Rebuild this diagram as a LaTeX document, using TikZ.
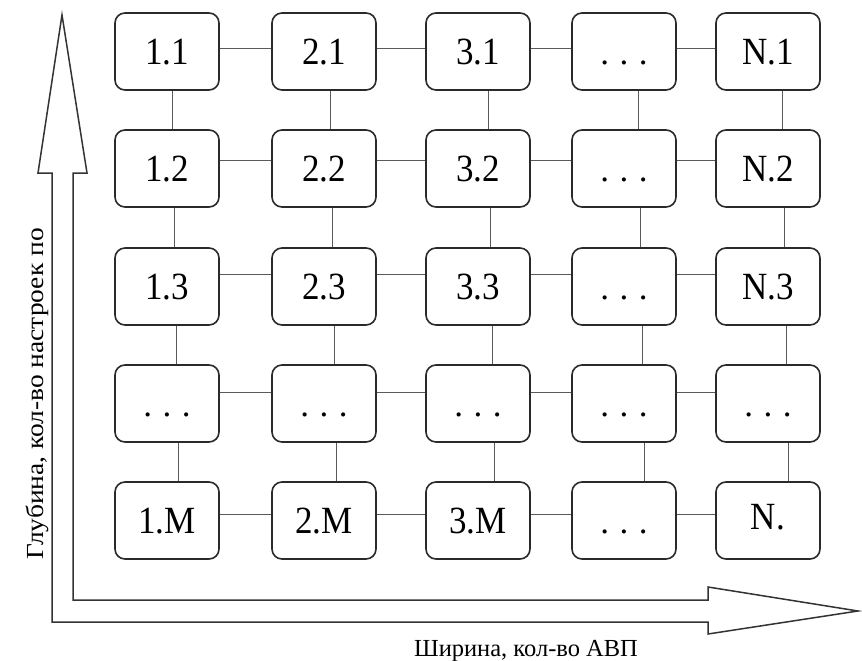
\documentclass[tikz,border=0pt]{standalone}
\usepackage{fontspec}
\setmainfont{Liberation Serif}
\definecolor{boxline}{HTML}{2A2A2A}
\definecolor{linkgray}{HTML}{5A5A5A}
\definecolor{arrowline}{HTML}{333333}
\newcommand\gdots{.\hspace{10.5pt}.\hspace{10.5pt}.}
\newcommand\celltext[1]{\scalebox{1}[1.1]{#1}}
\begin{document}
\begin{tikzpicture}[x=1pt,y=-1pt,
  cell/.style={draw=boxline, line width=1.6pt, rounded corners=10pt, fill=white,
    minimum width=104pt, minimum height=77pt, inner sep=0pt,
    font=\fontsize{35}{40}\selectfont, text height=26pt, text depth=0pt},
  link/.style={draw=linkgray, line width=0.9pt},
  bigarrow/.style={draw=arrowline, line width=1.5pt, line join=miter},
  axislabel/.style={font=\fontsize{24.5}{28}\selectfont, inner sep=0pt}]

\useasboundingbox (0,0) rectangle (862,661);

% the two axes drawn as one hollow L-shaped double arrow
\draw[bigarrow] (62,15) -- (87,173) -- (73,173) -- (73,600) -- (708,600)
  -- (708,587) -- (858,611) -- (708,634) -- (708,622) -- (52,622)
  -- (52,173) -- (38,173) -- cycle;

% grid of settings: column = width index, row = depth index
\node[cell] (n11) at (167,51.5) {\celltext{1.1}};
\node[cell] (n21) at (324,51.5) {\celltext{2.1}};
\node[cell] (n31) at (478,51.5) {\celltext{3.1}};
\node[cell] (n41) at (624,51.5) {\gdots};
\node[cell] (n51) at (768,51.5) {\celltext{N.1}};

\node[cell] (n12) at (167,168.5) {\celltext{1.2}};
\node[cell] (n22) at (324,168.5) {\celltext{2.2}};
\node[cell] (n32) at (478,168.5) {\celltext{3.2}};
\node[cell] (n42) at (624,168.5) {\gdots};
\node[cell] (n52) at (768,168.5) {\celltext{N.2}};

\node[cell] (n13) at (167,286.5) {\celltext{1.3}};
\node[cell] (n23) at (324,286.5) {\celltext{2.3}};
\node[cell] (n33) at (478,286.5) {\celltext{3.3}};
\node[cell] (n43) at (624,286.5) {\gdots};
\node[cell] (n53) at (768,286.5) {\celltext{N.3}};

\node[cell] (n14) at (167,403.5) {\gdots};
\node[cell] (n24) at (324,403.5) {\gdots};
\node[cell] (n34) at (478,403.5) {\gdots};
\node[cell] (n44) at (624,403.5) {\gdots};
\node[cell] (n54) at (768,403.5) {\gdots};

\node[cell] (n15) at (167,520.5) {\celltext{1.M}};
\node[cell] (n25) at (324,520.5) {\celltext{2.M}};
\node[cell] (n35) at (478,520.5) {\celltext{3.M}};
\node[cell] (n45) at (624,520.5) {\gdots};
\node[cell] (n55) at (768,520.5) {\raisebox{4pt}{\celltext{N.}}};

% horizontal links within each row (row / offset above centre)
\foreach \rowi/\hoff in {1/3.5,2/8.5,3/12,4/11,5/6}{
  \foreach \colA/\colB in {1/2,2/3,3/4,4/5}{
    \draw[link] ([yshift=\hoff pt]n\colA\rowi.east) -- ([yshift=\hoff pt]n\colB\rowi.west);
  }
}

% vertical links within each column (column / offset right of centre)
\foreach \colj/\voff in {1/5,2/6,3/10,4/14,5/14}{
  \foreach \rowA/\rowB/\drift in {1/2/0,2/3/2,3/4/4,4/5/6}{
    \pgfmathsetmacro\shiftx{\voff+\drift}
    \draw[link] ([xshift=\shiftx pt]n\colj\rowA.south) -- ([xshift=\shiftx pt]n\colj\rowB.north);
  }
}

% axis captions
\node[axislabel, rotate=90] (depthlabel) at (37,394)
  {\scalebox{1.12}[1]{Глубина, кол-во настроек по}};
\node[axislabel] (widthlabel) at (526,651) {Ширина, кол-во АВП};
\end{tikzpicture}
\end{document}
